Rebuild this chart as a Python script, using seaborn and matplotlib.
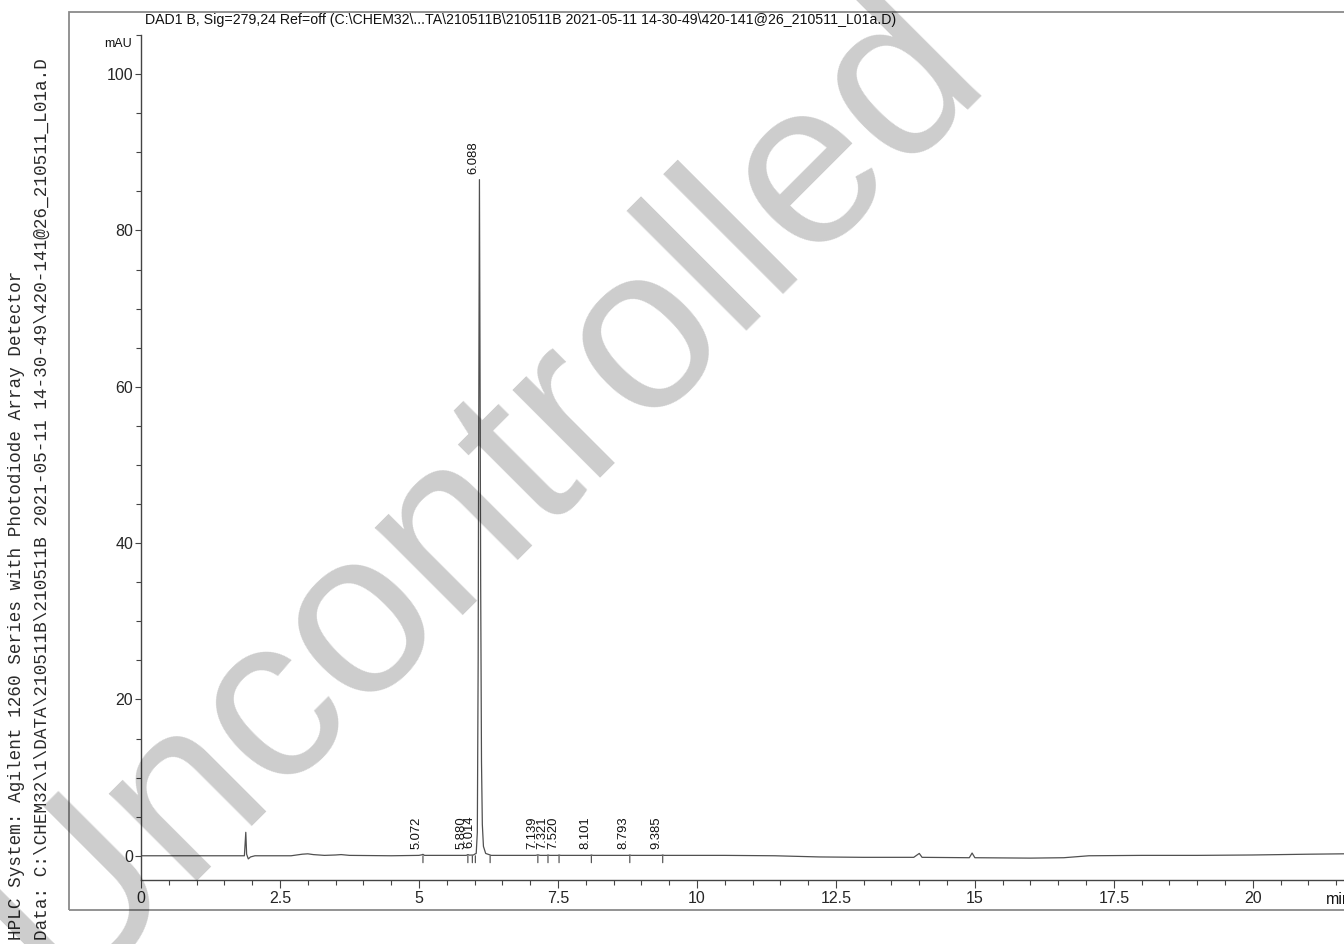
import numpy as np
import pandas as pd
import matplotlib
matplotlib.use("Agg")
import matplotlib.pyplot as plt
from matplotlib.ticker import MultipleLocator, FuncFormatter
from matplotlib.patches import Rectangle
import seaborn as sns

# ---------------- data ----------------
time_min = [0.0, 1.86, 1.885, 1.90, 1.93, 1.97, 2.05, 2.7, 2.9, 3.0, 3.1, 3.3, 3.5, 3.6, 3.75, 4.5,
            5.0, 5.05, 5.072, 5.1, 5.85, 5.88, 5.91, 5.98, 6.014, 6.03, 6.05, 6.065, 6.075, 6.088,
            6.10, 6.11, 6.125, 6.14, 6.16, 6.2, 6.3, 7.1, 7.139, 7.18, 7.3, 7.321, 7.35, 7.5, 7.52,
            7.55, 8.08, 8.101, 8.13, 8.77, 8.793, 8.82, 9.36, 9.385, 9.41, 10.5, 11.4, 12.2, 13.0,
            13.9, 14.0, 14.05, 14.9, 14.95, 15.0, 16.0, 16.6, 17.05, 18.0, 19.0, 20.0, 21.0, 21.65]
signal_mau = [0.0, 0.0, 3.0, 0.2, -0.4, -0.15, 0.0, 0.0, 0.2, 0.25, 0.15, 0.05, 0.1, 0.15, 0.05, 0.0,
              0.05, 0.12, 0.18, 0.05, 0.05, 0.15, 0.08, 0.1, 0.25, 0.3, 3.0, 25.0, 55.0, 86.5,
              60.0, 35.0, 12.0, 4.0, 1.2, 0.3, 0.05, 0.05, 0.12, 0.05, 0.05, 0.1, 0.05, 0.05, 0.1,
              0.05, 0.05, 0.1, 0.05, 0.05, 0.1, 0.05, 0.05, 0.1, 0.05, 0.05, 0.0, -0.15, -0.2,
              -0.2, 0.3, -0.2, -0.25, 0.35, -0.25, -0.3, -0.25, 0.0, 0.05, 0.05, 0.1, 0.2, 0.25]

peak_rt = [5.072, 5.880, 6.014, 6.088, 7.139, 7.321, 7.520, 8.101, 8.793, 9.385]
peak_labels = ["5.072", "5.880", "6.014", "6.088", "7.139", "7.321", "7.520", "8.101", "8.793", "9.385"]
peak_height = [0.18, 0.15, 0.25, 86.5, 0.12, 0.1, 0.1, 0.1, 0.1, 0.1]
event_times = [5.072, 5.880, 5.96, 6.014, 6.28, 7.139, 7.321, 7.520, 8.101, 8.793, 9.385]

title_text = ("DAD1 B, Sig=279,24 Ref=off (C:\\CHEM32\\...TA\\210511B\\210511B 2021-05-11 "
              "14-30-49\\420-141@26_210511_L01a.D)")
side_line1 = "HPLC System: Agilent 1260 Series with Photodiode Array Detector"
side_line2 = "Data: C:\\CHEM32\\1\\DATA\\210511B\\210511B 2021-05-11 14-30-49\\420-141@26_210511_L01a.D"
watermark = "Uncontrolled"

df = pd.DataFrame({"time": time_min, "mAU": signal_mau})

# ---------------- figure ----------------
sns.set_style("ticks")
plt.rcParams["font.family"] = ["Liberation Sans", "DejaVu Sans"]

W, H = 1344, 944
fig = plt.figure(figsize=(W / 100, H / 100), dpi=100)
ax = fig.add_axes([141 / W, 1 - 880 / H, (W - 141) / W, (880 - 35) / H])

sns.lineplot(data=df, x="time", y="mAU", ax=ax, color="#505050", linewidth=0.9,
             estimator=None, sort=False)

ax.set_xlim(0, 21.64)
ax.set_ylim(-3.1, 105)
ax.set_xlabel("")
ax.set_ylabel("")

fmt = FuncFormatter(lambda v, p: f"{v:g}")
ax.xaxis.set_major_locator(MultipleLocator(2.5))
ax.xaxis.set_minor_locator(MultipleLocator(0.5))
ax.yaxis.set_major_locator(MultipleLocator(20))
ax.yaxis.set_minor_locator(MultipleLocator(5))
ax.xaxis.set_major_formatter(fmt)
ax.yaxis.set_major_formatter(fmt)
ax.tick_params(which="major", direction="out", length=5.5, width=0.8, color="#444444",
               labelsize=11.5)
ax.tick_params(axis="y", which="major", length=4.5, pad=1)
ax.tick_params(axis="x", which="major", pad=2.5)
ax.tick_params(which="minor", direction="out", length=3.5, width=0.8, color="#444444")
for s in ["top", "right"]:
    ax.spines[s].set_visible(False)
for s in ["left", "bottom"]:
    ax.spines[s].set_color("#444444")
    ax.spines[s].set_linewidth(1.0)

# integration event marks below baseline
for t in event_times:
    ax.annotate("", xy=(t, 0), xytext=(0, -5), textcoords="offset points",
                arrowprops=dict(arrowstyle="-", color="#444444", lw=0.8,
                                shrinkA=0, shrinkB=0))

# retention time labels
for t, h, lab in zip(peak_rt, peak_height, peak_labels):
    ax.annotate(lab, xy=(t, h), xytext=(0, 4), textcoords="offset points",
                rotation=90, rotation_mode="anchor", ha="left", va="bottom",
                fontsize=9.4, color="#111111")

# texts around the plot
fig.text(118 / W, 1 - 44 / H, "mAU", ha="center", va="center", fontsize=9, color="#111111")
fig.text(1326 / W, 1 - 899 / H, "min", ha="left", va="center", fontsize=11.5, color="#111111")
fig.text(145 / W, 1 - 20 / H, title_text, ha="left", va="center", fontsize=10.15, color="#111111")
fig.text(17 / W, 4 / H, side_line1, rotation=90, ha="center", va="bottom",
         family=["Liberation Mono", "DejaVu Sans Mono"], fontsize=12.7, color="#2a2a2a")
fig.text(42 / W, 4 / H, side_line2, rotation=90, ha="center", va="bottom",
         family=["Liberation Mono", "DejaVu Sans Mono"], fontsize=12.7, color="#2a2a2a")

# outer frame
fig.add_artist(Rectangle((69 / W, 1 - 910 / H), 1.2, (910 - 12) / H, transform=fig.transFigure,
                         fill=False, edgecolor="#8a8a8a", linewidth=1.3, clip_on=False))

# watermark
fig.text(525 / W, 1 - 535 / H, watermark, rotation=45, rotation_mode="anchor",
         ha="center", va="baseline", fontsize=168, color="black", alpha=0.2, zorder=10)

fig.savefig("out.png", dpi=100)
